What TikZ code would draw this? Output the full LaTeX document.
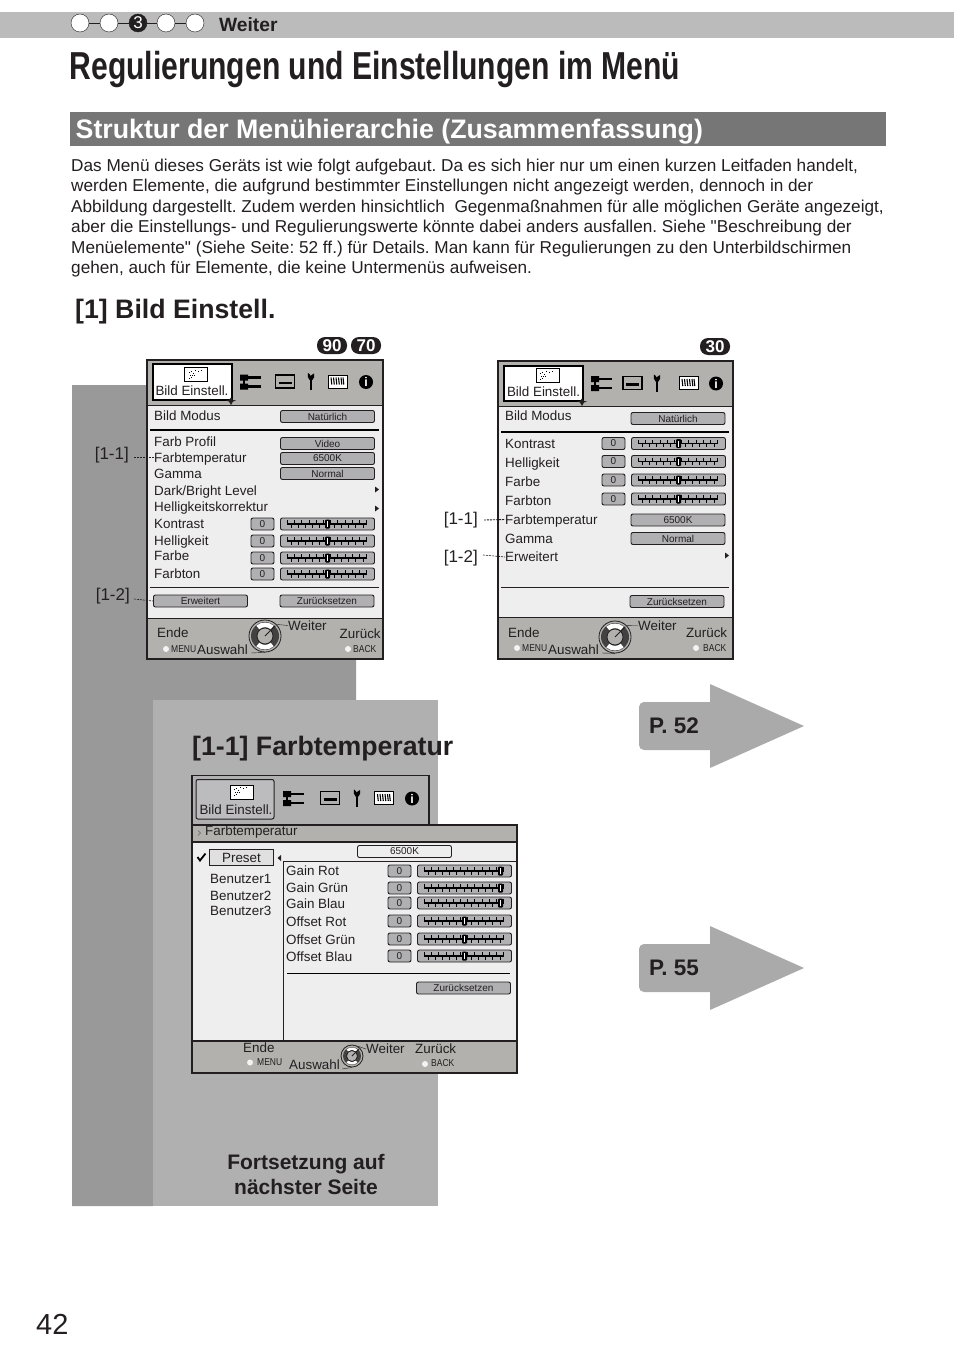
\documentclass[tikz,border=0pt]{standalone}
\usepackage{fontspec}
\setmainfont{Liberation Sans}
\newfontfamily\rawfont{Liberation Sans}
\usetikzlibrary{positioning, calc}
\definecolor{topbar}{RGB}{187,187,187}
\definecolor{sectionbar}{RGB}{118,118,118}
\definecolor{darkback}{RGB}{153,153,153}
\definecolor{lightback}{RGB}{176,176,176}
\definecolor{screenhead}{RGB}{178,177,174}
\definecolor{screenbody}{RGB}{238,238,238}
\definecolor{btnfill}{RGB}{176,176,178}
\definecolor{inkdark}{RGB}{35,31,32}
\definecolor{pfeilfill}{RGB}{170,170,170}
\newcommand{\pxfont}[1]{\fontsize{#1}{#1}\selectfont}
\newcommand{\geradequote}{{\rawfont"}}
\tikzset{
    txt/.style={anchor=west, inner sep=0pt, text height=12pt, text depth=3pt, text=inkdark, font=\pxfont{13.4}},
    bigtxt/.style={anchor=west, inner sep=0pt, text=inkdark, font=\pxfont{26.7}\bfseries},
    scrbtn/.style={draw=inkdark, line width=0.9pt, fill=btnfill, rounded corners=2pt, minimum width=94pt, minimum height=12pt, inner sep=0pt, text=inkdark, font=\pxfont{10}},
    scrval/.style={scrbtn, minimum width=23pt},
    leader/.style={line width=0.6pt, inkdark, dash pattern=on 2pt off 1pt},
    small/.style={anchor=west, inner sep=0pt, text=inkdark, font=\pxfont{10}, xscale=0.85},
    label/.style={anchor=east, inner sep=0pt, text=inkdark, font=\pxfont{17}},
    knopf/.style={circle, fill=white!85!lightback, minimum size=6pt, inner sep=0pt},
    pill/.style={fill=inkdark, rounded corners=8pt, minimum width=30pt, minimum height=17pt, inner sep=0pt, text=white, font=\pxfont{17}\bfseries}
}
% Schieberegler: Zeile mit Text, Wert und Regler
\newcommand{\reglerrow}[7]{
    \node[txt] (#1t) at (#3,#4) {#2};
    \node[scrval] (#1v) at (#5,#4+#6) {0};
    \node[scrbtn] (#1s) at ($(#1v.center)+(65,0)$) {};
    \begin{scope}[shift={(#1s.center)}]
        \draw[black, line width=1.5pt] (-40,0) -- (39,0);
        \foreach \t in {-40,-32.8,...,40} \draw[black, line width=1.1pt] (\t,-3.8) -- (\t,0.5);
        \foreach \t in {-36.4,-29.2,...,36} \draw[black, line width=1.1pt] (\t,-0.5) -- (\t,3.8);
        \fill[black, rounded corners=1pt] (#7-2.5,-4.5) rectangle (#7+2.5,4.5);
        \fill[white] (#7-0.4,-3) rectangle (#7+0.8,3);
    \end{scope}
}
% Symbole in der Kopfzeile
\newcommand{\bildicon}[2]{
    \begin{scope}[shift={(#1,#2)}]
        \draw[black, fill=white, line width=0.8pt] (0,0) rectangle (23,14);
        \foreach \a/\b in {4/4,6/3,8/5,10/2,5/7,7/7,9/7,4/10,6/9,13/3,16/2} \fill[black] (\a,\b) rectangle ++(1.4,1.4);
    \end{scope}
}
\newcommand{\iconrow}[6]{
    \begin{scope}[shift={(#1,#6)}]
        \fill[black] (0,-0.5) rectangle (8,5.5) (0,8.5) rectangle (8,14.5);
        \draw[black, line width=2.4pt] (7,2.5) -- (21,2.5) (7,11.5) -- (21,11.5);
        \draw[black, line width=1.6pt] (4,2.5) -- (4,11.5);
    \end{scope}
    \draw[black, line width=1.2pt] (#2,#6) rectangle ++(19,13);
    \draw[black, line width=2.4pt] (#2+3,#6+8) -- ++(13,0);
    \begin{scope}[shift={(#3,#6)}]
        \draw[black, line width=2.8pt] (0,3) -- (0,15);
        \fill[black] (-3,-2) -- (-1.2,-0.5) -- (-0.8,1) -- (3,-1.5) -- (3.2,2) -- (1.4,5) -- (-1.4,5) -- (-3.2,2) -- cycle;
    \end{scope}
    \begin{scope}[shift={(#4,#6)}]
        \draw[black, fill=white, line width=1pt] (0,0) rectangle (19,13);
        \foreach \z in {3,5.5,8,10.5,13,15} \draw[black, line width=1.1pt] (\z,2.5) -- (\z+0.8,9.5);
    \end{scope}
    \node[circle, fill=black, text=white, minimum size=14pt, inner sep=0pt, font=\pxfont{12.5}\bfseries] at (#5,#6+7) {i};
}
% Drehknopf unten im Bildschirm
\newcommand{\dial}[4]{
    \node[circle, draw=inkdark, fill=screenhead, line width=0.8pt, minimum size=2*#4 pt, inner sep=0pt] (#1) at (#2,#3) {};
    \fill[inkdark!85] (#2,#3) circle (#4-2);
    \begin{scope}[shift={(#2,#3)}]
        \fill[white] (50:#4-2.5) arc[start angle=50, end angle=130, radius=#4-2.5] -- (130:#4*0.55) arc[start angle=130, end angle=50, radius=#4*0.55] -- cycle;
        \fill[white] (230:#4-2.5) arc[start angle=230, end angle=310, radius=#4-2.5] -- (310:#4*0.55) arc[start angle=310, end angle=230, radius=#4*0.55] -- cycle;
        \draw[inkdark, fill=screenhead, line width=0.8pt] (0,0) circle (#4*0.5);
        \draw[inkdark, line width=1pt] (0,0) -- (-45:#4*0.9);
    \end{scope}
}
% Seitenpfeil rechts
\newcommand{\seitepfeil}[3]{
    \fill[pfeilfill] (710,#2-24) -- (710,#2-42) -- (804,#2) -- (710,#2+42) -- (710,#2+24) [rounded corners=5pt] -- (639,#2+24) -- (639,#2-24) [sharp corners] -- cycle;
    \node[anchor=west, inner sep=0pt, text=inkdark, font=\pxfont{22.5}\bfseries] (#1) at (649,#2) {#3};
}
\begin{document}
\begin{tikzpicture}[x=1pt, y=-1pt]
    \useasboundingbox (0,0) rectangle (954,1356);

    % Balken oben mit den Schrittkreisen
    \fill[topbar] (0,12) rectangle (954,38);
    \node[circle, draw=inkdark, fill=white, minimum size=18pt, inner sep=0pt] (s1) at (80,23) {};
    \node[circle, draw=inkdark, fill=white, minimum size=18pt, inner sep=0pt] (s2) at (109,23) {};
    \node[circle, draw=inkdark, fill=inkdark, minimum size=18pt, inner sep=0pt, text=white, font=\pxfont{17}] (s3) at (138,23) {3};
    \node[circle, draw=inkdark, fill=white, minimum size=18pt, inner sep=0pt] (s4) at (166,23) {};
    \node[circle, draw=inkdark, fill=white, minimum size=18pt, inner sep=0pt] (s5) at (195,23) {};
    \draw[inkdark] (s1) -- (s2);
    \draw[inkdark] (s2) -- (s3);
    \draw[inkdark] (s3) -- (s4);
    \draw[inkdark] (s4) -- (s5);
    \node[anchor=west, inner sep=0pt, text=inkdark, font=\pxfont{19.2}\bfseries] (weiter) at (219,24.5) {Weiter};

    % Titel
    \node[anchor=base west, inner sep=0pt, text=inkdark, font=\pxfont{39}\bfseries, xscale=0.772] (titel) at (69.5,79.5) {Regulierungen und Einstellungen im Menü};

    % Abschnitt
    \fill[sectionbar] (70,112) rectangle (886,146);
    \node[anchor=west, inner sep=0pt, text=white, font=\pxfont{26.75}\bfseries] (abschnitt) at (75.5,131.5) {Struktur der Menühierarchie (Zusammenfassung)};
    \node[anchor=north west, inner sep=0pt, align=left, text=inkdark, font=\fontsize{17.2}{20.5}\selectfont\frenchspacing] (absatz) at (71,158.5) {Das Menü dieses Geräts ist wie folgt aufgebaut. Da es sich hier nur um einen kurzen Leitfaden handelt,\\
werden Elemente, die aufgrund bestimmter Einstellungen nicht angezeigt werden, dennoch in der\\
Abbildung dargestellt. Zudem werden hinsichtlich\ \ Gegenmaßnahmen für alle möglichen Geräte angezeigt,\\
aber die Einstellungs- und Regulierungswerte könnte dabei anders ausfallen. Siehe \geradequote Beschreibung der\\
Menüelemente\geradequote\ (Siehe Seite: 52 ff.) für Details. Man kann für Regulierungen zu den Unterbildschirmen\\
gehen, auch für Elemente, die keine Untermenüs aufweisen.};
    \node[bigtxt] (bild) at (75,311.5) {[1] Bild Einstell.};

    % graue Flaechen hinter den Bildschirmen
    \fill[darkback] (72,385) rectangle (356,700) (72,700) rectangle (153,1206);
    \fill[lightback] (153,700) rectangle (438,1206);

    % Modellnummern
    \node[pill] (m90) at (332,345.5) {90};
    \node[pill] (m70) at (366,345.5) {70};
    \node[pill] (m30) at (715,346.5) {30};

    % ---------- Bildschirm links ----------
    \fill[screenhead] (147,360) rectangle (383,659);
    \fill[screenbody] (147,405) rectangle (383,618);
    \draw[inkdark, line width=0.8pt] (147,405) -- (383,405);
    \draw[inkdark, line width=0.8pt] (147,618) -- (383,618);
    \draw[inkdark, line width=1.6pt] (147,360) rectangle (383,659);
    \draw[black, fill=white, line width=2pt] (153,364) rectangle (232,400);
    \bildicon{184.5}{367.5}
    \node[anchor=center, inner sep=0pt, text=inkdark, font=\pxfont{13.4}] (tab1) at (192,390.5) {Bild Einstell.};
    \fill[inkdark] (231,397.5) -- (233,400) -- (236,400.5) -- (233,401.5) -- (231,405) -- (229,401.5) -- (226,400.5) -- (229,400) -- cycle;
    \iconrow{240}{275.5}{311}{328}{366}{375}
    \node[txt] (modus1) at (154,416) {Bild Modus};
    \node[scrbtn] (nat1) at (327.5,416.5) {Natürlich};
    \draw[black, line width=1.8pt] (150,430) -- (379,430);
    \node[txt] (profil) at (154,442) {Farb Profil};
    \node[txt] (temp1) at (154,457.5) {Farbtemperatur};
    \node[txt] (gamma1) at (154,473.5) {Gamma};
    \node[txt] (dark) at (154,490.5) {Dark/Bright Level};
    \node[txt] (hell1) at (154,506.5) {Helligkeitskorrektur};
    \node[scrbtn] at (327.5,443.5) (video) {Video};
    \node[scrbtn] at (327.5,458.5) (k6500a) {6500K};
    \node[scrbtn] at (327.5,473.5) (norm1) {Normal};
    \fill[inkdark] (375,486.5) -- (379,489.5) -- (375,492.5) -- cycle;
    \fill[inkdark] (375,505.5) -- (379,508.5) -- (375,511.5) -- cycle;
    \reglerrow{a}{Kontrast}{154}{523.5}{262.5}{0.5}{0}
    \reglerrow{b}{Helligkeit}{154}{540.5}{262.5}{0.5}{0}
    \reglerrow{c}{Farbe}{154}{556}{262.5}{2}{0}
    \reglerrow{d}{Farbton}{154}{573.5}{262.5}{0.5}{0}
    \draw[inkdark, line width=0.9pt] (150,587) -- (379,587);
    \node[scrbtn] (erw1) at (200.5,601) {Erweitert};
    \node[scrbtn] (zur1) at (327,601) {Zurücksetzen};
    \node[txt] (ende1) at (157,633) {Ende};
    \node[knopf] (kn1) at (166,649) {};
    \node[small] (menu1) at (171,649) {MENU};
    \node[txt] (ausw1) at (197,650) {Auswahl};
    \dial{dial1}{265}{636}{16}
    \node[txt] (weit1) at (288,625.5) {Weiter};
    \node[txt] (zur1b) at (339.5,633.5) {Zurück};
    \node[knopf] (kn1b) at (348,649) {};
    \node[small] (back1) at (353,649) {BACK};
    \draw[inkdark] (dial1.45) -- (weit1.west);
    \draw[inkdark] (ausw1.east) ++(3,3) -- (dial1.south);
    \node[label] (l11a) at (129,455) {[1-1]};
    \node[label] (l12a) at (130,596) {[1-2]};
    \draw[leader] (l11a.east) ++(5,2.5) -- (temp1.west);
    \draw[leader] (l12a.east) ++(4,3) -- (erw1.west);

    % ---------- Bildschirm rechts ----------
    \fill[screenhead] (498,361) rectangle (733,659);
    \fill[screenbody] (498,406) rectangle (733,617);
    \draw[inkdark, line width=0.8pt] (498,406) -- (733,406);
    \draw[inkdark, line width=0.8pt] (498,617) -- (733,617);
    \draw[inkdark, line width=1.6pt] (498,361) rectangle (733,659);
    \draw[black, fill=white, line width=2pt] (504,365.5) rectangle (583,401);
    \bildicon{536}{368.5}
    \node[anchor=center, inner sep=0pt, text=inkdark, font=\pxfont{13.4}] (tab2) at (543.5,391.5) {Bild Einstell.};
    \fill[inkdark] (582,398.5) -- (584,401) -- (587,401.5) -- (584,402.5) -- (582,406) -- (580,402.5) -- (577,401.5) -- (580,401) -- cycle;
    \iconrow{591}{623}{657}{679}{716}{376.5}
    \node[txt] (modus2) at (505,416) {Bild Modus};
    \node[scrbtn] (nat2) at (678,418.5) {Natürlich};
    \draw[black, line width=1.8pt] (501,432) -- (729,432);
    \reglerrow{e}{Kontrast}{505}{443.5}{613.5}{0}{0}
    \reglerrow{f}{Helligkeit}{505}{462.5}{613.5}{-1}{0}
    \reglerrow{g}{Farbe}{505}{481.5}{613.5}{-1.5}{0}
    \reglerrow{h}{Farbton}{505}{500.5}{613.5}{-1.5}{0}
    \node[txt] (temp2) at (505,519.5) {Farbtemperatur};
    \node[txt] (gamma2) at (505,538.5) {Gamma};
    \node[txt] (erw2) at (505,557) {Erweitert};
    \node[scrbtn] at (678,520) (k6500b) {6500K};
    \node[scrbtn] at (678,538.5) (norm2) {Normal};
    \fill[inkdark] (725,552.5) -- (729,555.5) -- (725,558.5) -- cycle;
    \draw[inkdark, line width=0.9pt] (501,587) -- (729,587);
    \node[scrbtn] (zur2) at (677,601.5) {Zurücksetzen};
    \node[txt] (ende2) at (508,632.5) {Ende};
    \node[knopf] (kn2) at (517,648) {};
    \node[small] (menu2) at (522,648) {MENU};
    \node[txt] (ausw2) at (548,650) {Auswahl};
    \dial{dial2}{615}{637}{16}
    \node[txt] (weit2) at (638,625.5) {Weiter};
    \node[txt] (zur2b) at (686,632.5) {Zurück};
    \node[knopf] (kn2b) at (696,648) {};
    \node[small] (back2) at (703,648) {BACK};
    \draw[inkdark] (dial2.45) -- (weit2.west);
    \draw[inkdark] (ausw2.east) ++(3,3) -- (dial2.south);
    \node[label] (l11b) at (478,520) {[1-1]};
    \node[label] (l12b) at (478,558) {[1-2]};
    \draw[leader, line width=0.9pt] (l11b.east) ++(6,0) -- (temp2.west);
    \draw[leader] (l12b.east) ++(5,-3) -- (erw2.west);

    % Seitenpfeile
    \seitepfeil{p52}{726}{P. 52}
    \seitepfeil{p55}{968}{P. 55}

    % ---------- Farbtemperatur ----------
    \node[bigtxt] (farbt) at (192,749) {[1-1] Farbtemperatur};
    \draw[inkdark, line width=1.6pt] (192,825) -- (192,775.5) -- (429,775.5) -- (429,825);
    \draw[inkdark, line width=1pt, fill=btnfill!85!white, rounded corners=2pt] (196,779.5) rectangle (274,819);
    \bildicon{230}{785}
    \node[anchor=center, inner sep=0pt, text=inkdark, font=\pxfont{13.4}] (tab3) at (236,810) {Bild Einstell.};
    \iconrow{283}{320.5}{357}{374.5}{412}{791.5}
    \fill[screenhead] (192,825) rectangle (517,842);
    \fill[screenbody] (192,842) rectangle (517,1041);
    \fill[screenhead] (192,1041) rectangle (517,1073);
    \draw[inkdark, line width=1.6pt] (192,825) rectangle (517,1073);
    \draw[inkdark, line width=1.6pt] (192,842) -- (517,842);
    \draw[inkdark, line width=1.4pt] (192,1041) -- (517,1041);
    \draw[inkdark, line width=0.9pt] (283.5,861) -- (283.5,1041) (283.5,861) -- (517,861);
    \node[txt] (temp3) at (205,831) {Farbtemperatur};
    \draw[inkdark!70, line width=0.5pt] (198,830.5) -- (200.5,833) -- (198,835.5);
    \node[rectangle, draw=inkdark, line width=0.8pt, fill=black!12, minimum width=64pt, minimum height=16pt, inner sep=0pt, text=inkdark, font=\pxfont{13.4}] (preset) at (241.5,857.5) {Preset};
    \draw[black, line width=1.8pt] (197.5,857) -- (200,860.5) -- (205.5,853.5);
    \fill[inkdark] (281,855) -- (277.5,858) -- (281,861) -- cycle;
    \node[txt] (ben1) at (210,879) {Benutzer1};
    \node[txt] (ben2) at (210,896) {Benutzer2};
    \node[txt] (ben3) at (210,911) {Benutzer3};
    \node[scrbtn, fill=screenbody] (k6500c) at (404.5,851.5) {6500K};
    \reglerrow{i}{Gain Rot}{286}{871}{399.5}{0}{36}
    \reglerrow{j}{Gain Grün}{286}{888}{399.5}{0}{36}
    \reglerrow{k}{Gain Blau}{286}{904}{399.5}{-1}{36}
    \reglerrow{l}{Offset Rot}{286}{922}{399.5}{-1}{0}
    \reglerrow{m}{Offset Grün}{286}{940}{399.5}{-1}{0}
    \reglerrow{n}{Offset Blau}{286}{957}{399.5}{-1}{0}
    \draw[black, line width=1.4pt] (287,973.5) -- (510,973.5);
    \node[scrbtn] (zur3) at (463.5,988) {Zurücksetzen};
    \node[txt] (ende3) at (243,1048) {Ende};
    \node[knopf] (kn3) at (250,1062.5) {};
    \node[small] (menu3) at (257,1062) {MENU};
    \node[txt] (ausw3) at (289,1065) {Auswahl};
    \dial{dial3}{352}{1056}{11}
    \node[txt] (weit3) at (366,1049) {Weiter};
    \node[txt] (zur3b) at (415,1049) {Zurück};
    \node[knopf] (kn3b) at (425,1064) {};
    \node[small] (back3) at (431,1063) {BACK};
    \draw[inkdark] (dial3.60) -- (weit3.west);
    \draw[inkdark] (ausw3.east) ++(2,4) -- (dial3.south);

    % Fortsetzung und Seitenzahl
    \node[anchor=center, align=center, inner sep=0pt, text=inkdark, font=\fontsize{21}{25}\selectfont\bfseries] (fort) at (306,1174) {Fortsetzung auf\\nächster Seite};
    \node[anchor=west, inner sep=0pt, text=inkdark, font=\pxfont{29}] (seite) at (36,1324) {42};
\end{tikzpicture}
\end{document}
